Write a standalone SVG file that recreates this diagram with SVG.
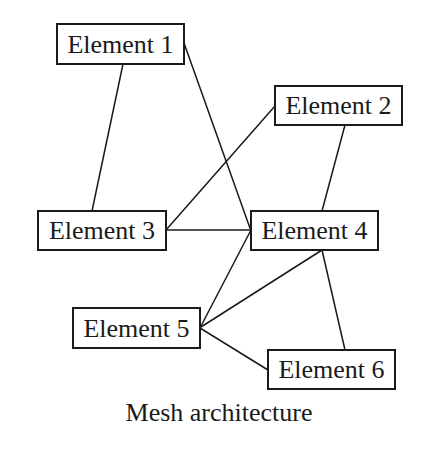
<svg xmlns="http://www.w3.org/2000/svg" width="424" height="456" viewBox="0 0 424 456">
<style>
.box{fill:#fff;stroke:#1a1a1a;stroke-width:2}
.lbl{font-family:"Liberation Serif","Times New Roman",serif;font-size:26px;fill:#1a1a1a;text-anchor:middle}
.edge{stroke:#1a1a1a;stroke-width:1.5;fill:none}
</style>
<rect width="424" height="456" fill="#fff"/>
<g id="connectors">
<line class="edge" x1="123" y1="64" x2="92" y2="211"/>
<line class="edge" x1="184" y1="43" x2="251" y2="231"/>
<line class="edge" x1="275" y1="106" x2="166" y2="230"/>
<line class="edge" x1="345" y1="125" x2="322" y2="211"/>
<line class="edge" x1="166" y1="230" x2="251" y2="230"/>
<line class="edge" x1="251" y1="230" x2="200" y2="328"/>
<line class="edge" x1="322" y1="250" x2="201" y2="327"/>
<line class="edge" x1="322" y1="250" x2="345" y2="350"/>
<line class="edge" x1="200" y1="328" x2="268" y2="370"/>
</g>
<g id="element1"><rect class="box" x="57" y="24" width="127" height="40"/><text class="lbl" x="120.5" y="52.5">Element 1</text></g>
<g id="element2"><rect class="box" x="275" y="86" width="127" height="39"/><text class="lbl" x="338.5" y="114">Element 2</text></g>
<g id="element3"><rect class="box" x="38" y="211" width="128" height="39"/><text class="lbl" x="102" y="239">Element 3</text></g>
<g id="element4"><rect class="box" x="251" y="211" width="127" height="39"/><text class="lbl" x="314.5" y="239">Element 4</text></g>
<g id="element5"><rect class="box" x="73" y="308" width="127" height="40"/><text class="lbl" x="136.5" y="336.5">Element 5</text></g>
<g id="element6"><rect class="box" x="268" y="350" width="127" height="39"/><text class="lbl" x="331.5" y="378">Element 6</text></g>
<text class="lbl" x="219" y="421">Mesh architecture</text>
</svg>
